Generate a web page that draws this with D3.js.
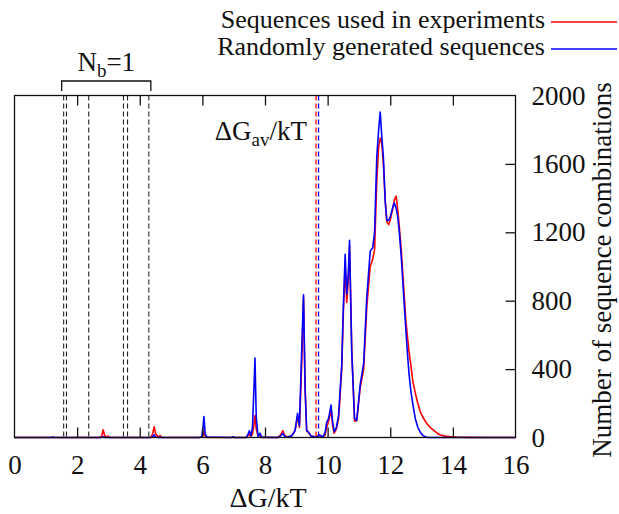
<!DOCTYPE html>
<html>
<head>
<meta charset="utf-8">
<script src="https://cdn.jsdelivr.net/npm/d3@7"></script>
<style>
  html, body { margin: 0; padding: 0; background: #fff; }
  svg text { font-family: "Liberation Serif", "DejaVu Serif", serif; fill: #111; }
</style>
</head>
<body>
<svg id="chart" width="619" height="514"></svg>
<script>
// ---- data ----
const dG = [0,1.0,1.2,1.23,1.26,2.7,2.78,2.83,2.88,2.95,2.99,3.03,4.35,4.41,4.46,4.51,4.6,4.65,4.7,5.9,
  5.98,6.02,6.05,6.09,6.15,6.9,6.99,7.05,7.4,7.45,7.5,7.55,7.6,7.65,7.68,7.72,7.78,7.84,7.9,8.4,
  8.5,8.57,8.62,8.7,8.85,8.96,9.04,9.1,9.17,9.23,9.28,9.33,9.4,9.47,9.55,9.65,9.75,9.85,9.92,9.97,
  10.03,10.11,10.16,10.21,10.28,10.35,10.45,10.5,10.56,10.61,10.66,10.7,10.77,10.86,10.93,11.04,11.15,11.25,11.36,11.44,
  11.5,11.57,11.63,11.68,11.73,11.78,11.84,11.89,11.95,12.0,12.08,12.13,12.19,12.24,12.29,12.35,12.4,12.45,12.5,12.55,
  12.6,12.66,12.72,12.8,12.88,12.96,13.04,13.12,13.2,13.3,13.4,13.5,13.6,13.75,13.9,14.1,14.5,15,16];

const experimentCounts = [0,0,0,0,0,0,5,45,10,2,8,0,0,20,64,20,3,12,0,0,
  3,20,35,8,0,0,0,0,0,8,20,5,20,80,128,50,5,15,0,0,
  15,40,15,3,8,40,120,60,420,820,280,40,25,8,5,5,10,3,15,60,
  95,160,70,25,50,110,400,720,1000,790,920,1120,520,95,100,290,400,760,1000,1043,
  1100,1500,1700,1751,1720,1600,1380,1260,1245,1270,1340,1390,1411,1330,1230,1100,960,820,680,590,
  500,420,330,260,200,150,120,95,75,55,40,25,15,8,5,3,1,0,0];

const randomCounts = [0,0,0,4,0,0,0,5,0,0,0,0,0,3,15,3,0,2,0,0,
  5,60,122,20,3,0,4,0,0,15,40,10,60,300,465,120,5,25,2,0,
  8,25,8,2,10,40,142,70,500,834,300,40,30,8,5,3,15,2,30,90,
  110,190,90,35,60,130,420,750,1071,840,950,1153,500,110,100,310,430,820,1090,1110,
  1200,1640,1800,1903,1760,1640,1380,1270,1270,1290,1345,1372,1340,1290,1200,1060,915,770,624,490,
  371,270,196,110,60,30,12,5,0,0,0,0,0,0,0,0,0,0,0];

const seriesNames = ["Sequences used in experiments", "Randomly generated sequences"];
const seriesColors = ["#ff0000", "#0000ff"];
const nb1Positions = [1.57, 1.66, 2.37, 3.48, 3.61, 4.29];
const averageValues = [9.63, 9.71];
const xTicks = [0,2,4,6,8,10,12,14,16];
const yTicks = [0,400,800,1200,1600,2000];

// ---- layout ----
const svg = d3.select("#chart");
const L = 14.5, R = 515.5, T = 95.5, B = 437.5;
const x = d3.scaleLinear().domain([0,16]).range([L,R]);
const y = d3.scaleLinear().domain([0,2000]).range([B,T]);
const FS = 27;

// series lines
const series = [experimentCounts, randomCounts];
const line = d3.line().x(d => x(d[0])).y(d => y(d[1]));
series.forEach((vals, i) => {
  svg.append("path")
    .datum(dG.map((g, j) => [g, vals[j]]))
    .attr("d", line)
    .attr("fill", "none")
    .attr("stroke", seriesColors[i])
    .attr("stroke-width", 1.6)
    .attr("stroke-linejoin", "round");
});

// N_b = 1 dashed lines
svg.selectAll("line.nb").data(nb1Positions).enter().append("line")
  .attr("x1", d => x(d)).attr("x2", d => x(d))
  .attr("y1", T).attr("y2", B)
  .attr("stroke", "#222").attr("stroke-width", 1.1)
  .attr("stroke-dasharray", "5,3");

// averages
svg.selectAll("line.avg").data(averageValues).enter().append("line")
  .attr("x1", d => x(d)).attr("x2", d => x(d))
  .attr("y1", T).attr("y2", B)
  .attr("stroke", (d, i) => seriesColors[i]).attr("stroke-width", 1.3)
  .attr("stroke-dasharray", "5,3");

// frame
svg.append("rect").attr("x", L).attr("y", T).attr("width", R - L).attr("height", B - T)
  .attr("fill", "none").attr("stroke", "#111").attr("stroke-width", 1.3);

// x axes (ticks inside)
const xb = d3.axisBottom(x).tickValues(xTicks).tickSize(-10).tickPadding(17).tickFormat(d3.format("d"));
const gxb = svg.append("g").attr("transform", `translate(0,${B})`).call(xb);
gxb.select(".domain").remove();
gxb.selectAll(".tick line").attr("stroke", "#111").attr("stroke-width", 1.3)
  .filter(d => d === 0 || d === 16).remove();
gxb.selectAll(".tick text").attr("font-size", FS).attr("fill", "#111")
  .attr("font-family", "Liberation Serif");

const xt = d3.axisTop(x).tickValues(xTicks).tickSize(-10).tickFormat("");
const gxt = svg.append("g").attr("transform", `translate(0,${T})`).call(xt);
gxt.select(".domain").remove();
gxt.selectAll(".tick line").attr("stroke", "#111").attr("stroke-width", 1.3)
  .filter(d => d === 0 || d === 16).remove();

// right y axis
const yr = d3.axisRight(y).tickValues(yTicks).tickSize(-10).tickPadding(16).tickFormat(d3.format("d"));
const gyr = svg.append("g").attr("transform", `translate(${R},0)`).call(yr);
gyr.select(".domain").remove();
gyr.selectAll(".tick line").attr("stroke", "#111").attr("stroke-width", 1.3)
  .filter(d => d === 0 || d === 2000).remove();
gyr.selectAll(".tick text").attr("font-size", FS).attr("fill", "#111")
  .attr("font-family", "Liberation Serif");

// axis titles
svg.append("text").attr("x", 268).attr("y", 507).attr("text-anchor", "middle")
  .attr("font-size", 28).text("ΔG/kT");
svg.append("text").attr("transform", "translate(611,270) rotate(-90)")
  .attr("text-anchor", "middle").attr("font-size", FS).text("Number of sequence combinations");

// ΔG_av label
const av = svg.append("text").attr("x", 307).attr("y", 140).attr("text-anchor", "end").attr("font-size", FS);
av.append("tspan").text("ΔG");
av.append("tspan").attr("font-size", 19).attr("dy", 6).text("av");
av.append("tspan").attr("dy", -6).text("/kT");

// N_b bracket
svg.append("path")
  .attr("d", `M${x(nb1Positions[0]) - 2},91 V81 H${x(nb1Positions[5]) + 2} V91`)
  .attr("fill", "none").attr("stroke", "#111").attr("stroke-width", 1.3);
const nb = svg.append("text").attr("x", (x(nb1Positions[0]) + x(nb1Positions[5])) / 2).attr("y", 71)
  .attr("text-anchor", "middle").attr("font-size", FS);
nb.append("tspan").text("N");
nb.append("tspan").attr("font-size", 19).attr("dy", 6).text("b");
nb.append("tspan").attr("dy", -6).text("=1");

// legend
seriesNames.forEach((name, i) => {
  const yy = 28 + i * 27;
  svg.append("text").attr("x", 545).attr("y", yy).attr("text-anchor", "end")
    .attr("font-size", 26).text(name);
  svg.append("line").attr("x1", 551).attr("x2", 617).attr("y1", yy - 6).attr("y2", yy - 6)
    .attr("stroke", seriesColors[i]).attr("stroke-width", 1.6);
});
</script>
</body>
</html>
